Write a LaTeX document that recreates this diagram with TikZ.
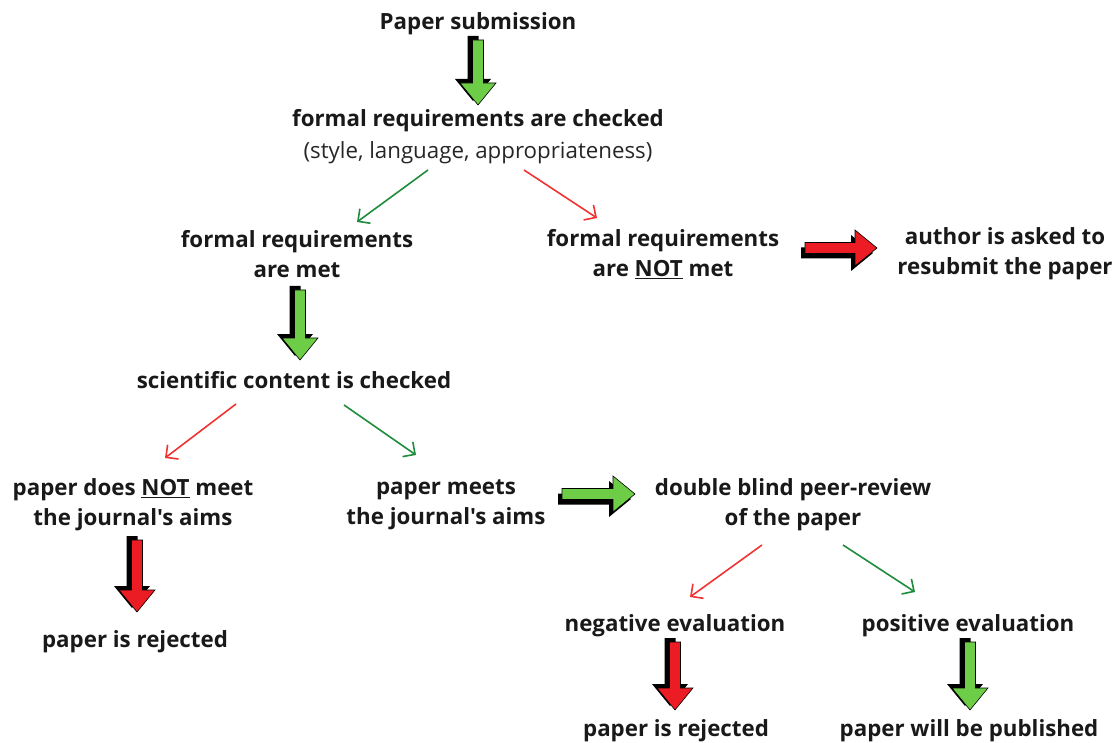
\documentclass[tikz,border=0pt]{standalone}
\usepackage{fontspec}
\setmainfont[Ligatures=TeXOff]{Open Sans}
\usetikzlibrary{arrows.meta,calc}
\definecolor{bgreen}{RGB}{110,205,70}
\definecolor{bred}{RGB}{236,28,36}
\definecolor{lgreen}{RGB}{30,140,60}
\definecolor{lred}{RGB}{240,50,50}
\tikzset{
 lbl/.style={font=\fontsize{22.3}{30}\selectfont\bfseries, align=center, inner sep=0pt, text=black!90},
 sublbl/.style={font=\fontsize{22.3}{30}\selectfont, align=center, inner sep=0pt, text=black!85},
 garrow/.style={draw=lgreen, line width=1.6pt, -{Straight Barb[length=9pt,width=18pt,line width=1.6pt]}},
 rarrow/.style={draw=lred, line width=1.6pt, -{Straight Barb[length=9pt,width=18pt,line width=1.6pt]}},
 pics/barrow/.style 2 args={code={
   \fill[black] [shift={(-4,5)}] (0,-5.5) -- ({#2-22},-5.5) -- ({#2-22},-18) -- (#2,0) -- ({#2-22},18) -- ({#2-22},5.5) -- (0,5.5) -- cycle;
   \filldraw[fill=#1, draw=black, line width=0.6pt] (0,-5.5) -- ({#2-22},-5.5) -- ({#2-22},-18) -- (#2,0) -- ({#2-22},18) -- ({#2-22},5.5) -- (0,5.5) -- cycle;
 }}
}
\begin{document}
\begin{tikzpicture}[x=1pt,y=-1pt]
\useasboundingbox (0,0) rectangle (1116,743);
\node[lbl] (sub) at (478,24) {Paper submission};
\node[lbl] (chk) at (478,121) {formal requirements are checked};
\node[sublbl] (sty) at (478,153) {(style, language, appropriateness)};
\node[lbl] (met) at (297,254) {formal requirements\\are met};
\node[lbl] (notmet) at (663,254) {formal requirements\\are \underline{NOT} met};
\node[lbl] (resub) at (1005,254) {author is asked to\\resubmit the paper};
\node[lbl] (sci) at (294,380) {scientific content is checked};
\node[lbl] (nomeet) at (133,505) {paper does \underline{NOT} meet\\the journal's aims};
\node[lbl] (meets) at (446,505) {paper meets\\the journal's aims};
\node[lbl] (dbl) at (793,505) {double blind peer-review\\of the paper};
\node[lbl] (rej1) at (135,642) {paper is rejected};
\node[lbl] (neg) at (675,626) {negative evaluation};
\node[lbl] (pos) at (968,626) {positive evaluation};
\node[lbl] (rej2) at (676,731) {paper is rejected};
\node[lbl] (pub) at (969,731) {paper will be published};

\draw[garrow] ($(sty)+(-50,17)$) -- ($(met)+(60,-32)$);
\draw[rarrow] ($(sty)+(46,17)$) -- ($(notmet)+(-66,-36)$);
\draw[rarrow] ($(sci)+(-58,24)$) -- ($(nomeet)+(32,-47)$);
\draw[garrow] ($(sci)+(50,25)$) -- ($(meets)+(-30,-50)$);
\draw[rarrow] ($(dbl)+(-31,40)$) -- ($(neg)+(15,-29)$);
\draw[garrow] ($(dbl)+(50,40)$) -- ($(pos)+(-53,-34)$);

\path ($(sub)+(0,16)$) pic[rotate=-90] {barrow={bgreen}{65}};
\path ($(met)+(3,36)$) pic[rotate=-90] {barrow={bgreen}{70}};
\path ($(notmet)+(142,-6)$) pic {barrow={bred}{72}};
\path ($(meets)+(116,-11)$) pic {barrow={bgreen}{73}};
\path ($(nomeet)+(4,35)$) pic[rotate=-90] {barrow={bred}{72}};
\path ($(neg)+(0,16)$) pic[rotate=-90] {barrow={bred}{68}};
\path ($(pos)+(2,16)$) pic[rotate=-90] {barrow={bgreen}{68}};
\end{tikzpicture}
\end{document}
